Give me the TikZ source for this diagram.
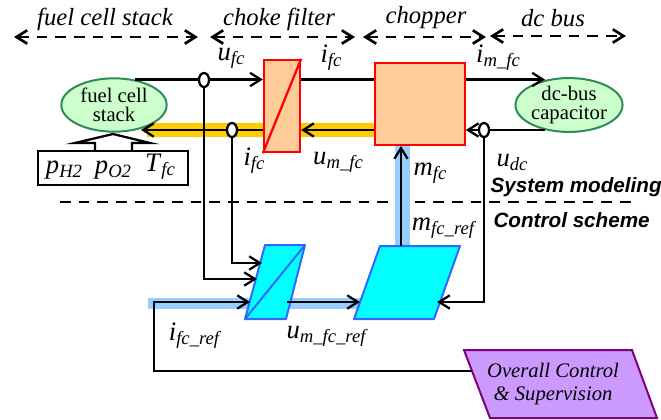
\documentclass[tikz,border=0pt]{standalone}
\usepackage{fontspec}
\setmainfont{Liberation Serif}
\setsansfont{Liberation Sans}
\usepackage{amsmath}
\usepackage{tikz}
\usetikzlibrary{shapes.geometric, arrows.meta}
\definecolor{stackgreen}{RGB}{204,255,204}
\definecolor{stackline}{RGB}{46,139,87}
\definecolor{boxorange}{RGB}{255,204,153}
\definecolor{busyellow}{RGB}{255,204,0}
\definecolor{busblue}{RGB}{153,204,255}
\definecolor{ctrlcyan}{RGB}{0,255,255}
\definecolor{ctrlline}{RGB}{51,102,255}
\definecolor{superfill}{RGB}{204,153,255}
\definecolor{superline}{RGB}{128,0,128}
\tikzset{
    sigline/.style={line width=1.7pt, -{Straight Barb[length=8pt, width=10pt]}},
    plainline/.style={line width=1.7pt},
    zone/.style={line width=2pt, dash pattern=on 8pt off 6pt, {Straight Barb[length=8pt, width=10pt]}-{Straight Barb[length=8pt, width=10pt]}},
    sepline/.style={line width=1.6pt, dash pattern=on 8pt off 6pt},
    stackshape/.style={ellipse, draw=stackline, fill=stackgreen, line width=1.5pt, minimum width=79pt, minimum height=40pt, inner sep=0pt, align=center, font=\fontsize{15.5}{14.5}\selectfont},
    convbox/.style={draw=red, fill=boxorange, line width=1.7pt, inner sep=0pt},
    ctrlshape/.style={draw=ctrlline, fill=ctrlcyan, line width=1.5pt, line join=round},
    pick/.style={ellipse, draw, fill=white, line width=1.7pt, minimum width=7.5pt, minimum height=10.5pt, inner sep=0pt},
    zonelabel/.style={font=\itshape\fontsize{18.5}{18.5}\selectfont, inner sep=0pt},
    varlabel/.style={font=\fontsize{20}{20}\selectfont, inner sep=0pt},
    headlabel/.style={font=\sffamily\bfseries\itshape\fontsize{15.5}{16}\selectfont, inner sep=0pt}
}
\newcommand{\subvar}[2]{\textit{#1}{\fontsize{14}{14}\selectfont\textit{\raisebox{-3pt}{#2}}}}
\begin{document}
\begin{tikzpicture}[x=0.75pt, y=-0.75pt]
    \useasboundingbox (0,0) rectangle (661,419);
    % zone labels and arrows
    \node[zonelabel] (zstack) at (105,19) {fuel cell stack};
    \node[zonelabel] (zchoke) at (279,19) {choke filter};
    \node[zonelabel] (zchop) at (426,18) {chopper};
    \node[zonelabel] (zbus) at (553,18) {dc bus};
    \coordinate (za) at (14,37);
    \coordinate (zb) at (198,37);
    \coordinate (zc) at (210,37);
    \coordinate (zd) at (355,37);
    \coordinate (ze) at (363,37);
    \coordinate (zf) at (486,37);
    \coordinate (zg) at (490,36);
    \coordinate (zh) at (626,36);
    \draw[zone] (za) -- (zb);
    \draw[zone] (zc) -- (zd);
    \draw[zone] (ze) -- (zf);
    \draw[zone] (zg) -- (zh);
    % separator
    \coordinate (sepa) at (60,202);
    \coordinate (sepb) at (636,202);
    \draw[sepline] (sepa) -- (sepb);
    \node[headlabel, anchor=east] (sysmodel) at (662,187) {System modeling};
    \node[headlabel, anchor=east] (ctrlscheme) at (650,220) {Control scheme};
    % wide power buses
    \fill[busyellow] (147,123) rectangle (376,137);
    \fill[busblue] (395,140) rectangle (410,250);
    \fill[busblue] (148,298) rectangle (362,309);
    % blocks
    \node[stackshape] (stack) at (114,105) {fuel cell\\stack};
    \node[stackshape] (bus) at (569,105) {dc-bus\\capacitor};
    \node[convbox, minimum width=27pt, minimum height=69pt] (filter) at (282,106) {};
    \draw[red, line width=1.7pt] (filter.south west) -- (filter.north east);
    \node[convbox, minimum width=67pt, minimum height=62pt] (chop) at (420,104) {};
    % control blocks
    \draw[ctrlshape] (265,245) -- (305,245) -- (286,319) -- (245,319) -- cycle;
    \draw[ctrlline, line width=1.5pt] (245,319) -- (305,245);
    \draw[ctrlshape] (380,246) -- (460,246) -- (434,319) -- (354,319) -- cycle;
    \draw[superline, fill=superfill, line width=1.5pt] (464,350) -- (632,350) -- (657,418) -- (490,418) -- cycle;
    \node[font=\itshape\fontsize{15.5}{17.2}\selectfont, align=center, inner sep=0pt] (super) at (553,384) {Overall Control\\\& Supervision};
    % measurement box
    \node[draw, fill=white, line width=1.7pt, minimum width=112pt, minimum height=25pt, inner sep=0pt] (meas) at (113,168) {};
    \node[varlabel] (ph) at (64,170) {\subvar{p}{H2}};
    \node[varlabel] (po) at (113,170) {\subvar{p}{O2}};
    \node[varlabel] (tf) at (160,167) {\subvar{T}{fc}};
    \coordinate (ma) at (95,151);
    \coordinate (mb) at (95,143);
    \coordinate (mc) at (75,143);
    \coordinate (md) at (113,134);
    \coordinate (me) at (150,143);
    \coordinate (mf) at (132,143);
    \coordinate (mg) at (132,151);
    \draw[plainline, line join=miter] (ma) -- (mb) -- (mc) -- (md) -- (me) -- (mf) -- (mg);
    % power connectors
    \coordinate (stacktop) at (135,79.5);
    \coordinate (stackin) at (141,130);
    \coordinate (busin) at (545,79.5);
    \coordinate (busout) at (545,130);
    \draw[sigline] (stacktop) -- (filter.west |- stacktop);
    \draw[plainline] (filter.east |- stacktop) -- (chop.west |- stacktop);
    \draw[sigline] (chop.east |- stacktop) -- (busin);
    \draw[sigline] (busout) -- (chop.east |- busout);
    \draw[sigline] (chop.west |- busout) -- (filter.east |- busout);
    \draw[sigline] (filter.west |- busout) -- (stackin);
    % feedback connectors
    \node[pick] (pua) at (204,80) {};
    \node[pick] (pub) at (232,130) {};
    \node[pick] (puc) at (484,130) {};
    \coordinate (afirst) at (205,279);
    \coordinate (afirstend) at (257,279);
    \coordinate (asecond) at (232,263);
    \coordinate (asecondend) at (262,263);
    \coordinate (bthird) at (484,302);
    \coordinate (bthirdend) at (437,302);
    \coordinate (mstart) at (401,246);
    \coordinate (mend) at (401,146);
    \coordinate (refa) at (154,302);
    \coordinate (refb) at (154,371);
    \coordinate (refc) at (472,371);
    \coordinate (refd) at (250,302);
    \coordinate (urefa) at (287,302);
    \coordinate (urefb) at (360,302);
    \draw[sigline] (pua) -- (pua |- afirst) -- (afirstend);
    \draw[sigline] (pub) -- (asecond) -- (asecondend);
    \draw[sigline] (puc) -- (bthird) -- (bthirdend);
    \draw[sigline] (mstart) -- (mend);
    \draw[sigline, line join=miter] (refc) -- (refb) -- (refa) -- (refd);
    \draw[sigline] (urefa) -- (urefb);
    % signal labels
    \node[varlabel] (luf) at (231,58) {\subvar{u}{fc}};
    \node[varlabel] (lif) at (331,58) {\subvar{i}{fc}};
    \node[varlabel] (lim) at (498,58) {\subvar{i}{m\_fc}};
    \node[varlabel] (lif2) at (254,161) {\subvar{i}{fc}};
    \node[varlabel] (lum) at (338,162) {\subvar{u}{m\_fc}};
    \node[varlabel] (lud) at (512,162) {\subvar{u}{dc}};
    \node[varlabel] (lmf) at (430,173) {\subvar{m}{fc}};
    \node[varlabel] (lmr) at (443,228) {\subvar{m}{fc\_ref}};
    \node[varlabel] (lir) at (194,336) {\subvar{i}{fc\_ref}};
    \node[varlabel] (lur) at (326,336) {\subvar{u}{m\_fc\_ref}};
\end{tikzpicture}
\end{document}
